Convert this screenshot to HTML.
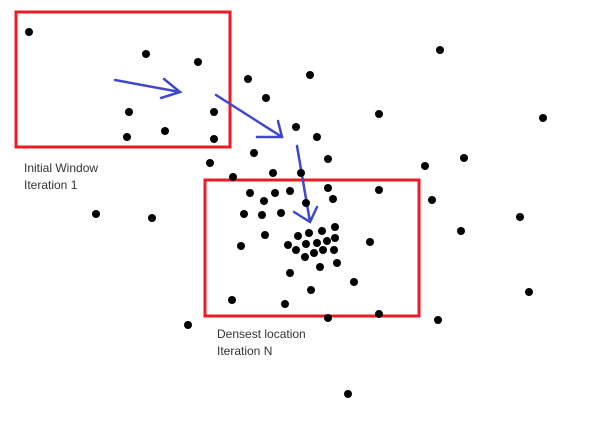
<!DOCTYPE html>
<html><head><meta charset="utf-8"><style>
html,body{margin:0;padding:0;background:#fff;}
svg{display:block;}
text{font-family:"Liberation Sans",sans-serif;font-size:12px;fill:#333;}
</style></head><body>
<svg id="chart" width="601" height="423" viewBox="0 0 601 423">
<rect x="16" y="12" width="214" height="135" fill="none" stroke="#ed1c24" stroke-width="3"/>
<rect x="205" y="180" width="214" height="136" fill="none" stroke="#ed1c24" stroke-width="3"/>
<g stroke="#3f48cc" stroke-width="2.5" fill="none" stroke-linecap="round">
<path d="M115 80 L180 92 M164 79 L180 92 L161 98"/>
<path d="M216 95 L282 137 M278 121 L282 137 L257 137"/>
<path d="M297 146 L310 222 M294 212 L310 222 L317 207"/>
</g>
<g id="dots"></g>
<text x="24" y="172">Initial Window</text>
<text x="24" y="189">Iteration 1</text>
<text x="217" y="338">Densest location</text>
<text x="217" y="355">Iteration N</text>
</svg>
<script>
const xs=[29,146,198,248,310,129,214,127,165,214,266,296,317,254,210,328,233,273,301,250,275,290,328,379,264,333,306,244,262,281,265,241,298,309,322,335,288,306,317,327,335,296,314,323,334,305,320,337,370,290,354,311,232,285,379,328,440,379,543,425,464,432,520,461,96,152,529,438,188,348];
const ys=[32,54,62,79,75,112,112,137,131,139,98,127,137,153,163,159,177,173,173,193,193,191,188,190,201,199,203,214,215,213,235,246,236,233,231,227,245,244,243,241,238,250,253,250,250,257,267,263,242,273,282,290,300,304,314,318,50,114,118,166,158,200,217,231,214,218,292,320,325,394];
const g=document.getElementById('dots');
for(let i=0;i<xs.length;i++){
  const c=document.createElementNS('http://www.w3.org/2000/svg','circle');
  
  
  c.setAttribute('cx',xs[i]);c.setAttribute('cy',ys[i]);c.setAttribute('r',4);
  c.setAttribute('fill','#000');
  g.appendChild(c);
}
</script>
</body></html>
